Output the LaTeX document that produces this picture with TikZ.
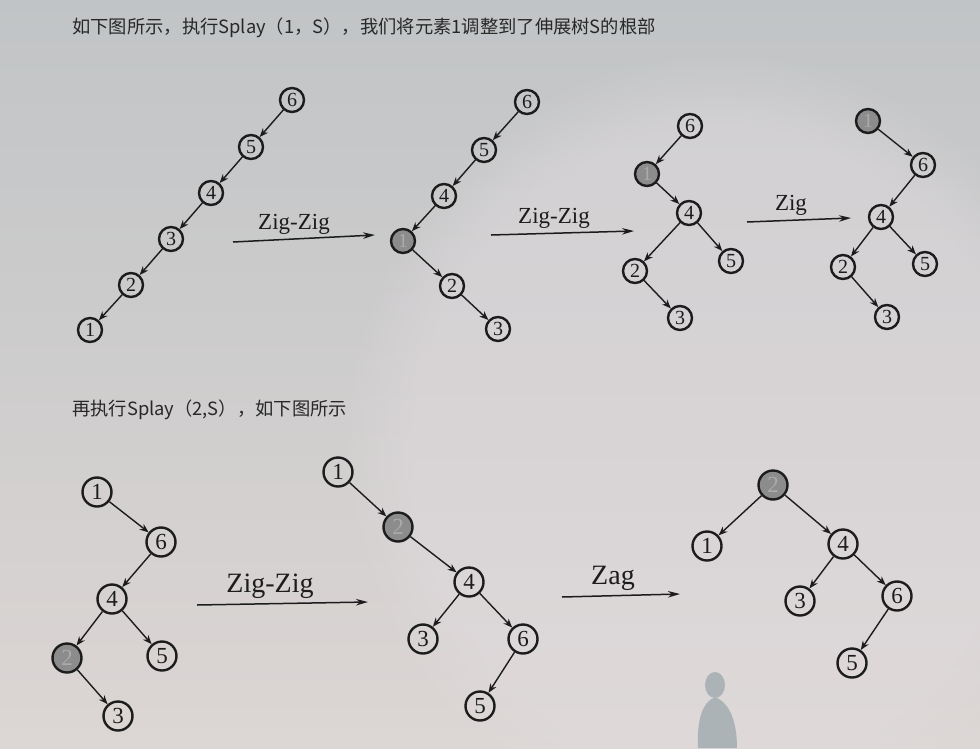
\documentclass[tikz,border=0pt]{standalone}
\usepackage{fontspec}
\setmainfont{Liberation Serif}
\newfontfamily\cjk{Noto Sans CJK SC}
\usetikzlibrary{arrows.meta,fadings}
\definecolor{bgtop}{RGB}{193,196,198}
\definecolor{bgbot}{RGB}{220,214,212}
\definecolor{glow}{RGB}{226,220,224}
\definecolor{ink}{RGB}{28,28,28}
\definecolor{txt}{RGB}{40,40,40}
\definecolor{shadefill}{RGB}{140,140,140}
\definecolor{shadetxt}{RGB}{170,170,170}
\definecolor{ghost}{RGB}{172,179,183}
\tikzset{
  nd/.style={circle,draw=ink,line width=2.4pt,inner sep=0pt,minimum size=24pt,
    font=\fontsize{20}{20}\selectfont,text=ink},
  ndb/.style={nd,minimum size=29pt,font=\fontsize{23}{23}\selectfont},
  hl/.style={fill=shadefill,text=shadetxt},
  ed/.style={draw=ink,line width=1.4pt,-{Stealth[length=9pt,width=7pt]}},
  op/.style={draw=ink,line width=1.5pt,-{Stealth[length=12pt,width=6.5pt]}},
  oplab/.style={font=\fontsize{23}{23}\selectfont,text=ink},
  oplabb/.style={font=\fontsize{28}{28}\selectfont,text=ink},
  captxt/.style={anchor=west,font=\cjk\fontsize{18.3}{18.3}\selectfont,text=txt,inner sep=0pt}
}
\begin{document}
\begin{tikzpicture}[x=1pt,y=-1pt]
\useasboundingbox (0,0) rectangle (980,748);
\shade[top color=bgtop,bottom color=bgbot] (0,0) rectangle (980,748);
\fill[glow,opacity=0.45,path fading=circle with fuzzy edge 20 percent] (720,450) ellipse (380 and 400);
% silhouette
\fill[ghost] (715,685) ellipse (10 and 13);
\fill[ghost] (698,748) .. controls (697,722) and (701,703) .. (715,697) .. controls (730,703) and (737,722) .. (737,748) -- cycle;

% captions
\node[captxt] (t1) at (72,28) {如下图所示，执行Splay（1，S），我们将元素1调整到了伸展树S的根部};
\node[captxt] (t2) at (72,410) {再执行Splay（2,S），如下图所示};

% tree A
\node[nd] (a6) at (292,100) {6};
\node[nd] (a5) at (251,147) {5};
\node[nd] (a4) at (211,193) {4};
\node[nd] (a3) at (171,239) {3};
\node[nd] (a2) at (131,285) {2};
\node[nd] (a1) at (90,330) {1};
\draw[ed] (a6) -- (a5);
\draw[ed] (a5) -- (a4);
\draw[ed] (a4) -- (a3);
\draw[ed] (a3) -- (a2);
\draw[ed] (a2) -- (a1);

% op 1
\coordinate (o1s) at (233,242);
\coordinate (o1e) at (375,235);
\draw[op] (o1s) -- (o1e);
\node[oplab] (l1) at (294,224) {Zig-Zig};

% tree B
\node[nd] (b6) at (527,102) {6};
\node[nd] (b5) at (484,150) {5};
\node[nd] (b4) at (444,196) {4};
\node[nd,hl] (b1) at (403,241) {1};
\node[nd] (b2) at (452,286) {2};
\node[nd] (b3) at (498,329) {3};
\draw[ed] (b6) -- (b5);
\draw[ed] (b5) -- (b4);
\draw[ed] (b4) -- (b1);
\draw[ed] (b1) -- (b2);
\draw[ed] (b2) -- (b3);

% op 2
\coordinate (o2s) at (491,235);
\coordinate (o2e) at (634,231);
\draw[op] (o2s) -- (o2e);
\node[oplab] (l2) at (554,218) {Zig-Zig};

% tree C
\node[nd] (c6) at (690,126) {6};
\node[nd,hl] (c1) at (647,174) {1};
\node[nd] (c4) at (689,213) {4};
\node[nd] (c2) at (635,271) {2};
\node[nd] (c5) at (731,261) {5};
\node[nd] (c3) at (680,318) {3};
\draw[ed] (c6) -- (c1);
\draw[ed] (c1) -- (c4);
\draw[ed] (c4) -- (c2);
\draw[ed] (c4) -- (c5);
\draw[ed] (c2) -- (c3);

% op 3
\coordinate (o3s) at (747,222);
\coordinate (o3e) at (851,218);
\draw[op] (o3s) -- (o3e);
\node[oplab] (l3) at (791,205) {Zig};

% tree D
\node[nd,hl] (d1) at (868,121) {1};
\node[nd] (d6) at (923,165) {6};
\node[nd] (d4) at (881,217) {4};
\node[nd] (d2) at (843,267) {2};
\node[nd] (d5) at (925,264) {5};
\node[nd] (d3) at (887,317) {3};
\draw[ed] (d1) -- (d6);
\draw[ed] (d6) -- (d4);
\draw[ed] (d4) -- (d2);
\draw[ed] (d4) -- (d5);
\draw[ed] (d2) -- (d3);

% tree E
\node[ndb] (e1) at (97,492) {1};
\node[ndb] (e6) at (161,542) {6};
\node[ndb] (e4) at (112,599) {4};
\node[ndb,hl] (e2) at (67,658) {2};
\node[ndb] (e5) at (162,656) {5};
\node[ndb] (e3) at (118,716) {3};
\draw[ed] (e1) -- (e6);
\draw[ed] (e6) -- (e4);
\draw[ed] (e4) -- (e2);
\draw[ed] (e4) -- (e5);
\draw[ed] (e2) -- (e3);

% op 4
\coordinate (o4s) at (197,605);
\coordinate (o4e) at (368,602);
\draw[op] (o4s) -- (o4e);
\node[oplabb] (l4) at (270,586) {Zig-Zig};

% tree F
\node[ndb] (f1) at (338,472) {1};
\node[ndb,hl] (f2) at (398,527) {2};
\node[ndb] (f4) at (469,582) {4};
\node[ndb] (f3) at (423,639) {3};
\node[ndb] (f6) at (523,639) {6};
\node[ndb] (f5) at (480,706) {5};
\draw[ed] (f1) -- (f2);
\draw[ed] (f2) -- (f4);
\draw[ed] (f4) -- (f3);
\draw[ed] (f4) -- (f6);
\draw[ed] (f6) -- (f5);

% op 5
\coordinate (o5s) at (562,597);
\coordinate (o5e) at (680,594);
\draw[op] (o5s) -- (o5e);
\node[oplabb] (l5) at (613,578) {Zag};

% tree G
\node[ndb,hl] (g2) at (773,485) {2};
\node[ndb] (g1) at (707,546) {1};
\node[ndb] (g4) at (843,544) {4};
\node[ndb] (g3) at (800,601) {3};
\node[ndb] (g6) at (897,596) {6};
\node[ndb] (g5) at (852,663) {5};
\draw[ed] (g2) -- (g1);
\draw[ed] (g2) -- (g4);
\draw[ed] (g4) -- (g3);
\draw[ed] (g4) -- (g6);
\draw[ed] (g6) -- (g5);
\end{tikzpicture}
\end{document}
